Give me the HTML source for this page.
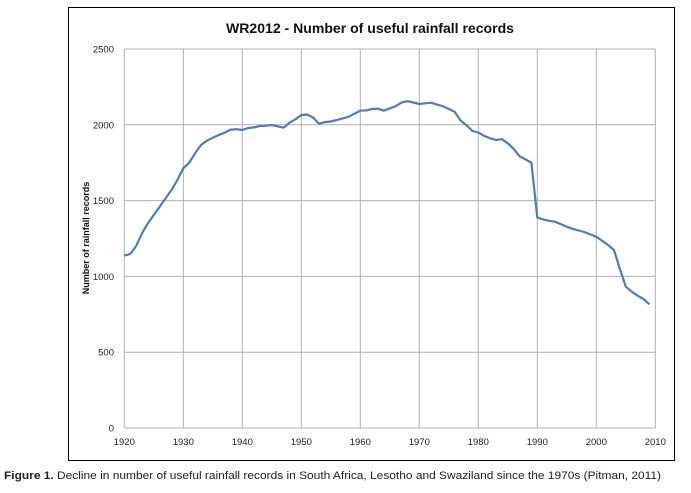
<!DOCTYPE html>
<html><head><meta charset="utf-8"><style>
body{margin:0;background:#fff;width:691px;height:488px;overflow:hidden;font-family:"Liberation Sans",sans-serif;}
</style></head><body>
<svg width="691" height="488">
<rect x="68.5" y="7.5" width="606" height="453" fill="#fff" stroke="#000" stroke-width="1"/>
<text x="370" y="33" text-anchor="middle" font-size="14" font-weight="bold" fill="#111" textLength="288" lengthAdjust="spacingAndGlyphs">WR2012 - Number of useful rainfall records</text>
<g id="grid"></g>
<g id="ticks"></g>
<text transform="translate(89,238) rotate(-90)" text-anchor="middle" font-size="9" font-weight="bold" fill="#111">Number of rainfall records</text>
<path id="line" fill="none" stroke="#4a7ebb" stroke-width="2.2" stroke-linejoin="round"/>
<text x="4" y="479" font-size="11" fill="#222" textLength="657" lengthAdjust="spacingAndGlyphs"><tspan font-weight="bold">Figure 1.</tspan> Decline in number of useful rainfall records in South Africa, Lesotho and Swaziland since the 1970s (Pitman, 2011)</text>
</svg>
<script>
const years=[];for(let y=1920;y<=2009;y++)years.push(y);
const records=[1137,1148,1200,1284,1350,1405,1460,1515,1570,1636,1713,1750,1812,1867,1895,1915,1933,1948,1968,1971,1966,1979,1983,1992,1994,1999,1990,1981,2014,2036,2064,2068,2048,2007,2018,2022,2031,2042,2053,2073,2093,2095,2104,2106,2093,2108,2123,2147,2156,2147,2137,2142,2146,2133,2122,2104,2085,2028,1997,1960,1949,1927,1911,1900,1905,1878,1841,1792,1772,1750,1389,1376,1367,1360,1345,1327,1314,1303,1292,1277,1261,1235,1207,1174,1049,932,899,873,851,816];
const xTicks=[1920,1930,1940,1950,1960,1970,1980,1990,2000,2010];
const yTicks=[0,500,1000,1500,2000,2500];
const X0=124.3,X1=655.3,Y0=428,Y1=49;
const xs=v=>X0+(v-1920)/90*(X1-X0);
const ys=v=>Y0-(v/2500)*(Y0-Y1);
const NS="http://www.w3.org/2000/svg";
const grid=document.getElementById('grid'),ticks=document.getElementById('ticks');
xTicks.forEach(t=>{
 const l=document.createElementNS(NS,'line');
 l.setAttribute('x1',xs(t));l.setAttribute('x2',xs(t));l.setAttribute('y1',Y1);l.setAttribute('y2',Y0);
 l.setAttribute('stroke','#b0b0b0');l.setAttribute('stroke-width','1');
 
 
 grid.appendChild(l);
 const tx=document.createElementNS(NS,'text');
 tx.setAttribute('x',xs(t));tx.setAttribute('y',445);tx.setAttribute('text-anchor','middle');
 tx.setAttribute('font-size','9.5');tx.setAttribute('fill','#222');tx.textContent=t;
 
 
 ticks.appendChild(tx);
});
yTicks.forEach(t=>{
 const l=document.createElementNS(NS,'line');
 l.setAttribute('x1',X0);l.setAttribute('x2',X1);l.setAttribute('y1',ys(t));l.setAttribute('y2',ys(t));
 l.setAttribute('stroke','#b0b0b0');l.setAttribute('stroke-width','1');
 
 
 grid.appendChild(l);
 const tx=document.createElementNS(NS,'text');
 tx.setAttribute('x',114);tx.setAttribute('y',ys(t)+3.5);tx.setAttribute('text-anchor','end');
 tx.setAttribute('font-size','9.5');tx.setAttribute('fill','#222');tx.textContent=t;
 
 
 ticks.appendChild(tx);
});
document.getElementById('line').setAttribute('d',records.map((v,i)=>(i?'L':'M')+xs(years[i]).toFixed(1)+' '+ys(v).toFixed(1)).join(' '));
</script>
</body></html>
